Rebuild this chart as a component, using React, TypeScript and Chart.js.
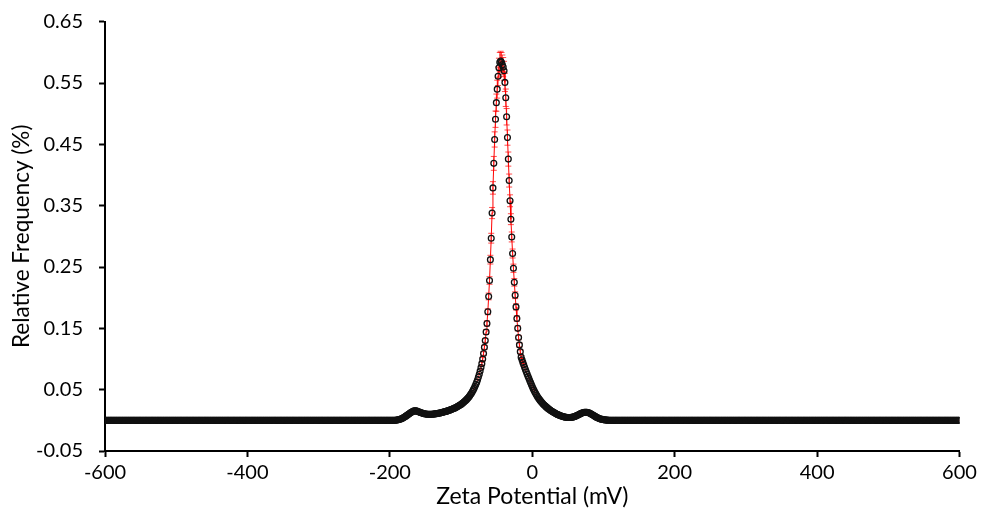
import React, { useEffect, useRef } from "react";
import { Chart, registerables } from "chart.js";

Chart.register(...registerables);

// Zeta potential sampling grid (mV)
const ZETA_STEP = 1.2;
const leftBaselineStart = -600;
const peakStart = -192;
const rightBaselineStart = 110.4;
const errorStart = -72;

// Relative frequency (%) — left flat baseline, -600 … -193.2 mV
const leftBaseline = [
  0,0,0,0,0,0,0,0,0,0,0,0,0,0,0,0,0,0,0,0,
  0,0,0,0,0,0,0,0,0,0,0,0,0,0,0,0,0,0,0,0,
  0,0,0,0,0,0,0,0,0,0,0,0,0,0,0,0,0,0,0,0,
  0,0,0,0,0,0,0,0,0,0,0,0,0,0,0,0,0,0,0,0,
  0,0,0,0,0,0,0,0,0,0,0,0,0,0,0,0,0,0,0,0,
  0,0,0,0,0,0,0,0,0,0,0,0,0,0,0,0,0,0,0,0,
  0,0,0,0,0,0,0,0,0,0,0,0,0,0,0,0,0,0,0,0,
  0,0,0,0,0,0,0,0,0,0,0,0,0,0,0,0,0,0,0,0,
  0,0,0,0,0,0,0,0,0,0,0,0,0,0,0,0,0,0,0,0,
  0,0,0,0,0,0,0,0,0,0,0,0,0,0,0,0,0,0,0,0,
  0,0,0,0,0,0,0,0,0,0,0,0,0,0,0,0,0,0,0,0,
  0,0,0,0,0,0,0,0,0,0,0,0,0,0,0,0,0,0,0,0,
  0,0,0,0,0,0,0,0,0,0,0,0,0,0,0,0,0,0,0,0,
  0,0,0,0,0,0,0,0,0,0,0,0,0,0,0,0,0,0,0,0,
  0,0,0,0,0,0,0,0,0,0,0,0,0,0,0,0,0,0,0,0,
  0,0,0,0,0,0,0,0,0,0,0,0,0,0,0,0,0,0,0,0,
  0,0,0,0,0,0,0,0,0,0,0,0,0,0,0,0,0,0,0,0,
];

// Relative frequency (%) — -192 … 109.2 mV
const peakFrequency = [
  0.0002,0.0004,0.0006,0.0009,0.0012,0.0016,0.0021,0.0027,0.0034,0.0042,0.005,0.0059,0.0068,0.0078,0.0088,0.0098,0.0108,0.0118,0.0127,0.0136,
  0.0145,0.0151,0.0155,0.0156,0.0154,0.015,0.0145,0.014,0.0134,0.0128,0.0123,0.0118,0.0114,0.011,0.0107,0.0104,0.0102,0.01,0.0099,0.0098,
  0.0098,0.0098,0.0099,0.01,0.0101,0.0103,0.0105,0.0107,0.0109,0.0111,0.0114,0.0117,0.012,0.0123,0.0126,0.013,0.0134,0.0138,0.0142,0.0146,
  0.015,0.0155,0.016,0.0165,0.017,0.0175,0.0181,0.0187,0.0193,0.0199,0.0206,0.0213,0.022,0.0228,0.0236,0.0245,0.0254,0.0264,0.0274,0.0285,
  0.0297,0.031,0.0323,0.0337,0.0352,0.0368,0.0385,0.0404,0.0424,0.0446,0.047,0.0496,0.0524,0.0554,0.0587,0.0623,0.0662,0.0705,0.0752,0.0804,
  0.0861,0.0924,0.1,0.109,0.119,0.13,0.144,0.158,0.177,0.202,0.228,0.262,0.297,0.338,0.379,0.419,0.458,0.491,0.518,0.54,
  0.561,0.575,0.584,0.586,0.584,0.58,0.576,0.57,0.551,0.526,0.495,0.461,0.426,0.391,0.358,0.328,0.299,0.272,0.248,0.225,
  0.204,0.185,0.166,0.15,0.135,0.123,0.112,0.103,0.0987,0.0945,0.0905,0.0866,0.0828,0.0791,0.0755,0.072,0.0685,0.065,0.0616,0.0583,
  0.0551,0.052,0.049,0.0462,0.0436,0.0412,0.0389,0.0368,0.0348,0.0329,0.0311,0.0294,0.0278,0.0263,0.0249,0.0236,0.0223,0.0211,0.0199,0.0188,
  0.0177,0.0167,0.0157,0.0148,0.0139,0.013,0.0122,0.0114,0.0107,0.01,0.0093,0.0087,0.0081,0.0075,0.007,0.0065,0.0061,0.0057,0.0054,0.0051,
  0.0049,0.0047,0.0046,0.0046,0.0046,0.0047,0.0049,0.0052,0.0055,0.0059,0.0064,0.007,0.0077,0.0084,0.0091,0.0098,0.0105,0.0112,0.0118,0.0123,
  0.0127,0.013,0.0132,0.0132,0.0131,0.0128,0.0124,0.0118,0.0111,0.0103,0.0095,0.0087,0.0078,0.0069,0.006,0.0052,0.0045,0.0038,0.0032,0.0027,
  0.0022,0.0018,0.0015,0.0012,0.0009,0.0007,0.0005,0.0004,0.0003,0.0002,0.0001,0.0001,
];

// Relative frequency (%) — right flat baseline, 110.4 … 600 mV
const rightBaseline = [
  0,0,0,0,0,0,0,0,0,0,0,0,0,0,0,0,0,0,0,0,
  0,0,0,0,0,0,0,0,0,0,0,0,0,0,0,0,0,0,0,0,
  0,0,0,0,0,0,0,0,0,0,0,0,0,0,0,0,0,0,0,0,
  0,0,0,0,0,0,0,0,0,0,0,0,0,0,0,0,0,0,0,0,
  0,0,0,0,0,0,0,0,0,0,0,0,0,0,0,0,0,0,0,0,
  0,0,0,0,0,0,0,0,0,0,0,0,0,0,0,0,0,0,0,0,
  0,0,0,0,0,0,0,0,0,0,0,0,0,0,0,0,0,0,0,0,
  0,0,0,0,0,0,0,0,0,0,0,0,0,0,0,0,0,0,0,0,
  0,0,0,0,0,0,0,0,0,0,0,0,0,0,0,0,0,0,0,0,
  0,0,0,0,0,0,0,0,0,0,0,0,0,0,0,0,0,0,0,0,
  0,0,0,0,0,0,0,0,0,0,0,0,0,0,0,0,0,0,0,0,
  0,0,0,0,0,0,0,0,0,0,0,0,0,0,0,0,0,0,0,0,
  0,0,0,0,0,0,0,0,0,0,0,0,0,0,0,0,0,0,0,0,
  0,0,0,0,0,0,0,0,0,0,0,0,0,0,0,0,0,0,0,0,
  0,0,0,0,0,0,0,0,0,0,0,0,0,0,0,0,0,0,0,0,
  0,0,0,0,0,0,0,0,0,0,0,0,0,0,0,0,0,0,0,0,
  0,0,0,0,0,0,0,0,0,0,0,0,0,0,0,0,0,0,0,0,
  0,0,0,0,0,0,0,0,0,0,0,0,0,0,0,0,0,0,0,0,
  0,0,0,0,0,0,0,0,0,0,0,0,0,0,0,0,0,0,0,0,
  0,0,0,0,0,0,0,0,0,0,0,0,0,0,0,0,0,0,0,0,
  0,0,0,0,0,0,0,0,0,
];

// Error (± %) around the main peak, -72 … -12 mV
const peakErrors = [
  0.0023,0.0025,0.0027,0.0029,0.0032,0.0035,0.0039,0.0043,0.0048,0.0055,
  0.0062,0.0071,0.008,0.0091,0.0102,0.0113,0.0124,0.0133,0.014,0.0146,
  0.0151,0.0155,0.0158,0.0158,0.0158,0.0157,0.0156,0.0154,0.0149,0.0142,
  0.0134,0.0124,0.0115,0.0106,0.0097,0.0089,0.0081,0.0073,0.0067,0.0061,
  0.0055,0.005,0.0045,0.0041,0.0036,0.0033,0.003,0.0028,0.0027,0.0026,0.0024,
];

const xTickValues = [-600, -400, -200, 0, 200, 400, 600];
const yTickValues = [-0.05, 0.05, 0.15, 0.25, 0.35, 0.45, 0.55, 0.65];

const FONT = "Lato, 'Noto Sans', sans-serif";

function segment(start: number, values: number[]) {
  return values.map((v, i) => ({ x: +(start + i * ZETA_STEP).toFixed(1), y: v }));
}

const points = [
  ...segment(leftBaselineStart, leftBaseline),
  ...segment(peakStart, peakFrequency),
  ...segment(rightBaselineStart, rightBaseline),
];

const errorBarPlugin = {
  id: "errorBars",
  beforeDatasetsDraw(chart: any) {
    const { ctx, chartArea, scales } = chart;
    const xs = scales.x;
    const ys = scales.y;
    ctx.save();
    ctx.beginPath();
    ctx.rect(chartArea.left, chartArea.top - 20, chartArea.right - chartArea.left, chartArea.bottom - chartArea.top + 20);
    ctx.clip();
    ctx.strokeStyle = "rgba(255,0,0,0.7)";
    ctx.lineWidth = 1;
    peakErrors.forEach((err, i) => {
      const x = errorStart + i * ZETA_STEP;
      const idx = Math.round((x - peakStart) / ZETA_STEP);
      const v = peakFrequency[idx];
      if (v === undefined) return;
      const px = xs.getPixelForValue(x);
      const yTop = ys.getPixelForValue(v + err);
      const yBot = ys.getPixelForValue(v - err);
      ctx.beginPath();
      ctx.moveTo(px, yTop);
      ctx.lineTo(px, yBot);
      ctx.moveTo(px - 3, yTop);
      ctx.lineTo(px + 3, yTop);
      ctx.moveTo(px - 3, yBot);
      ctx.lineTo(px + 3, yBot);
      ctx.stroke();
    });
    ctx.restore();
  },
};

export default function App() {
  const canvasRef = useRef<HTMLCanvasElement | null>(null);

  useEffect(() => {
    if (!canvasRef.current) return;
    const chart = new Chart(canvasRef.current, {
      type: "line",
      data: {
        datasets: [
          {
            label: "Relative Frequency",
            data: points,
            borderColor: "#ff0000",
            borderWidth: 1,
            pointStyle: "circle",
            pointRadius: 2.9,
            pointBorderWidth: 1.3,
            pointBorderColor: "#111111",
            pointBackgroundColor: "rgba(0,0,0,0)",
            pointHoverRadius: 2.9,
            tension: 0,
          },
        ],
      },
      options: {
        animation: false,
        responsive: false,
        devicePixelRatio: 1,
        parsing: false as any,
        normalized: true,
        layout: { padding: { left: 0, right: 21.5, top: 21.7, bottom: 0 } },
        plugins: {
          legend: { display: false },
          tooltip: { enabled: false },
        },
        scales: {
          x: {
            type: "linear",
            min: -600,
            max: 600,
            afterFit: (s: any) => {
              s.height = 59;
              s.paddingLeft = 0;
              s.paddingRight = 0;
            },
            afterBuildTicks: (s: any) => {
              s.ticks = xTickValues.map((v) => ({ value: v }));
            },
            ticks: {
              color: "#000",
              font: { family: FONT, size: 20 },
              padding: 4,
              maxRotation: 0,
              callback: (v: any) => String(v),
            },
            grid: {
              drawOnChartArea: false,
              drawTicks: true,
              tickLength: 6,
              tickColor: "#000",
              tickWidth: 2,
              color: "#000",
            },
            border: { display: true, color: "#000", width: 2 },
            title: {
              display: true,
              text: "Zeta Potential (mV)",
              color: "#000",
              font: { family: FONT, size: 23 },
              padding: { top: 0, bottom: 0 },
            },
          },
          y: {
            type: "linear",
            min: -0.05,
            max: 0.65,
            afterFit: (s: any) => {
              s.width = 105;
              s.paddingTop = 0;
              s.paddingBottom = 0;
            },
            afterBuildTicks: (s: any) => {
              s.ticks = yTickValues.map((v) => ({ value: v }));
            },
            ticks: {
              color: "#000",
              font: { family: FONT, size: 20 },
              padding: 16,
              callback: (v: any) => Number(v).toFixed(2),
            },
            grid: {
              drawOnChartArea: false,
              drawTicks: true,
              tickLength: 6,
              tickColor: "#000",
              tickWidth: 2,
              color: "#000",
            },
            border: { display: true, color: "#000", width: 2 },
            title: {
              display: true,
              text: "Relative Frequency (%)",
              color: "#000",
              font: { family: FONT, size: 22.5 },
              padding: { top: 8.5, bottom: 0 },
            },
          },
        },
      },
      plugins: [errorBarPlugin],
    });
    return () => chart.destroy();
  }, []);

  return (
    <div style={{ position: "absolute", left: 0, top: 0, width: 981, height: 510, background: "#fff" }}>
      <canvas ref={canvasRef} width={981} height={510} />
    </div>
  );
}
